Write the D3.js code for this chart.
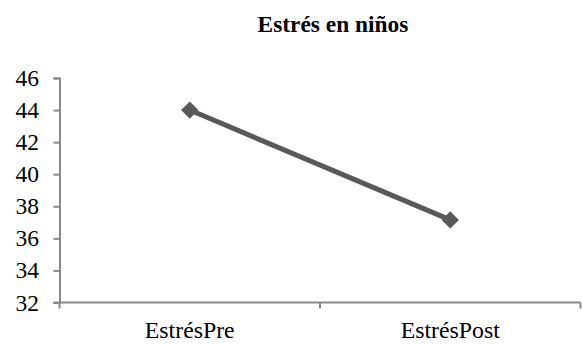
<!DOCTYPE html>
<html>
<head>
<meta charset="utf-8">
<script src="https://cdn.jsdelivr.net/npm/d3@7"></script>
<style>
  html, body { margin: 0; padding: 0; background: #fff; }
  svg { display: block; }
  text { font-family: "Liberation Serif", "Times New Roman", Times, "DejaVu Serif", serif; }
</style>
</head>
<body>
<svg id="chart" width="582" height="345"></svg>
<script>
// Chart data
const title = "Estrés en niños";
const categories = ["EstrésPre", "EstrésPost"];
const values = [44.0, 37.15];
const yTicks = [32, 34, 36, 38, 40, 42, 44, 46];

const svg = d3.select("#chart");
const margin = { left: 59.5, right: 1.5, top: 78, bottom: 42.5 };
const W = 582, H = 345;

const x = d3.scaleBand()
  .domain(categories)
  .range([margin.left, W - margin.right])
  .paddingInner(0).paddingOuter(0);

const y = d3.scaleLinear()
  .domain([32, 46])
  .range([H - margin.bottom, margin.top]);

const axisColor = "#898989";

// Title
svg.append("text")
  .attr("x", 333).attr("y", 32)
  .attr("text-anchor", "middle")
  .attr("font-weight", "bold")
  .attr("font-size", 23.4)
  .attr("fill", "#000")
  .text(title);

// Y axis
const yAxis = d3.axisLeft(y).tickValues(yTicks).tickSize(6).tickPadding(14.5);
const gy = svg.append("g")
  .attr("transform", `translate(${margin.left},0)`)
  .call(yAxis);
gy.attr("font-family", null);
gy.select(".domain").attr("stroke", axisColor).attr("stroke-width", 2);
gy.selectAll(".tick line").attr("stroke", axisColor).attr("stroke-width", 2);
gy.selectAll(".tick text")
  .attr("font-size", 23.5).attr("fill", "#000");

// X axis with ticks at category boundaries
const gx = svg.append("g")
  .attr("transform", `translate(0,${H - margin.bottom})`);
gx.append("line")
  .attr("x1", margin.left - 6).attr("x2", W - margin.right)
  .attr("stroke", axisColor).attr("stroke-width", 2);
const boundaries = categories.map(c => x(c)).concat([x(categories[categories.length - 1]) + x.bandwidth()]);
gx.selectAll(".btick").data(boundaries).join("line")
  .attr("class", "btick")
  .attr("x1", d => d).attr("x2", d => d)
  .attr("y1", 0).attr("y2", 6)
  .attr("stroke", axisColor).attr("stroke-width", 2);
gx.selectAll(".clabel").data(categories).join("text")
  .attr("class", "clabel")
  .attr("x", d => x(d) + x.bandwidth() / 2)
  .attr("y", 35.5)
  .attr("text-anchor", "middle")
  .attr("font-size", 23.8).attr("fill", "#000")
  .text(d => d);

// Series line and markers
const cx = (d, i) => x(categories[i]) + x.bandwidth() / 2;
const lineColor = "#595959";
svg.append("path")
  .datum(values)
  .attr("d", d3.line().x(cx).y(d => y(d)))
  .attr("fill", "none")
  .attr("stroke", lineColor)
  .attr("stroke-width", 5);

svg.selectAll(".marker").data(values).join("path")
  .attr("class", "marker")
  .attr("d", d3.symbol().type(d3.symbolSquare).size(150))
  .attr("transform", (d, i) => `translate(${cx(d, i)},${y(d)}) rotate(45)`)
  .attr("fill", lineColor);
</script>
</body>
</html>
